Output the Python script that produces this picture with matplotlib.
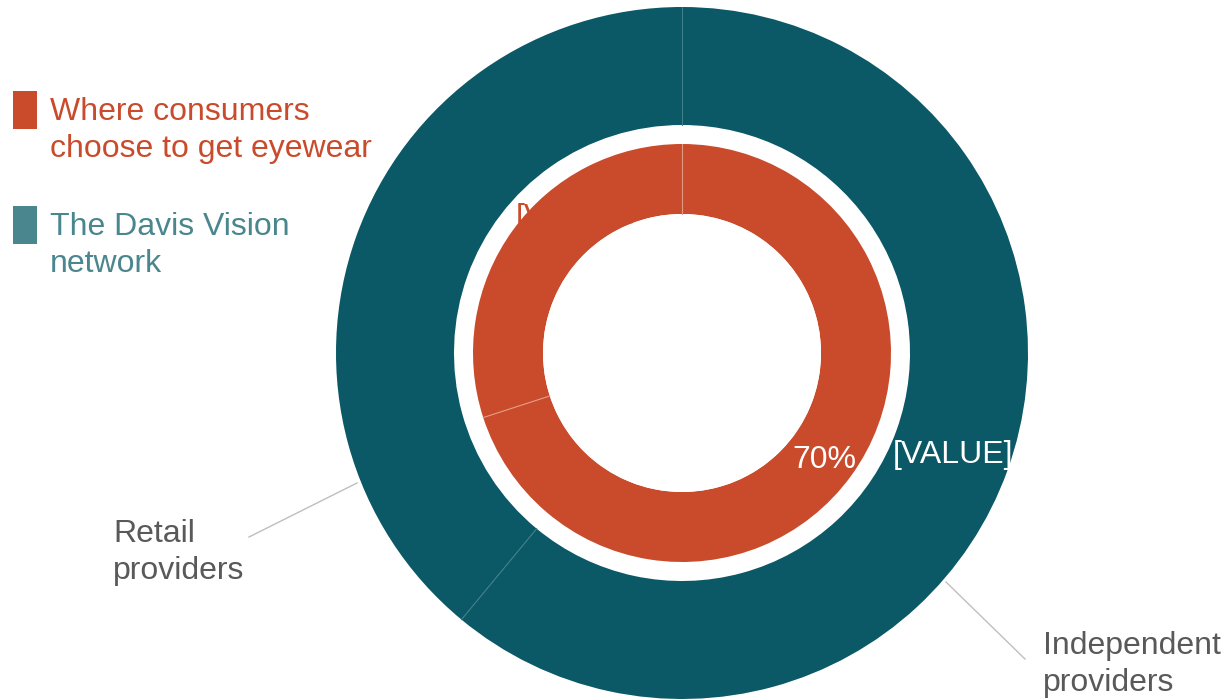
import numpy as np
import matplotlib
matplotlib.use("Agg")
import matplotlib.pyplot as plt

plt.rcParams['font.family'] = ['Liberation Sans', 'DejaVu Sans']

# --- data ---
outer_labels = ['Independent\nproviders', 'Retail\nproviders']
outer_values = [61, 39]          # The Davis Vision network
inner_values = [70, 30]          # Where consumers choose to get eyewear
legend_labels = ['Where consumers\nchoose to get eyewear', 'The Davis Vision\nnetwork']

TEAL = '#0b5866'
TEAL_LIGHT = '#4a868d'
RED = '#c94b2b'
GRAY = '#595959'
W, H = 1222, 700
FS = 23


def py(y):
    # pixel row (from top) -> data y
    return H - y


fig = plt.figure(figsize=(W / 100, H / 100), dpi=100)
ax = fig.add_axes([0, 0, 1, 1])

cx, cy = 682, py(353)
r_out, r_out_in = 346, 228
r_in, r_in_in = 209, 139

ax.pie(outer_values, radius=r_out, center=(cx, cy), startangle=90, counterclock=False,
       colors=[TEAL, TEAL], wedgeprops=dict(width=r_out - r_out_in, linewidth=0),
       frame=True)
# label hidden mostly behind the inner ring
ax.text(516, py(226), '[VALUE]', color=RED, fontsize=FS, va='baseline', zorder=1.5)
ax.pie(inner_values, radius=r_in, center=(cx, cy), startangle=90, counterclock=False,
       colors=[RED, RED], wedgeprops=dict(width=r_in - r_in_in, linewidth=0, zorder=2),
       frame=True)
ax.add_patch(plt.Circle((cx, cy), r_in_in, color='white', lw=0, zorder=2))

# thin slice separators
for vals, r0, r1, col in [(outer_values, r_out_in, r_out, '#3f7f89'),
                          (inner_values, r_in_in, r_in, '#e39a84')]:
    cum = np.cumsum([0] + vals[:-1]) / sum(vals)
    for f in cum:
        t = np.deg2rad(90 - 360 * f)
        ax.plot([cx + r0 * np.cos(t), cx + r1 * np.cos(t)],
                [cy + r0 * np.sin(t), cy + r1 * np.sin(t)],
                color=col, lw=0.8, zorder=3)

# value labels
ax.text(792, py(468), f'{inner_values[0]}%', color='white', fontsize=FS, va='baseline', zorder=4)
ax.text(893, py(463), '[VALUE]', color='white', fontsize=FS, va='baseline', zorder=4)

# category labels with leader lines
ax.plot([249, 357], [py(537), py(483)], color='#bfbfbf', lw=1)
ax.plot([946, 1025], [py(582), py(659)], color='#bfbfbf', lw=1)
for (x, y0), lab in zip([(1043, 654), (113, 542)], outer_labels):
    for i, line in enumerate(lab.split('\n')):
        ax.text(x, py(y0 + 37 * i), line, color=GRAY, fontsize=FS, va='baseline')

# legend
for (y_sq, y_base), lab, sq, tc in zip([(91, 120), (206, 235)], legend_labels,
                                      [RED, TEAL_LIGHT], [RED, TEAL_LIGHT]):
    ax.add_patch(plt.Rectangle((13, py(y_sq + 38)), 24, 38, color=sq, lw=0))
    for i, line in enumerate(lab.split('\n')):
        ax.text(50, py(y_base + 37 * i), line, color=tc, fontsize=FS, va='baseline')

ax.set_xlim(0, W)
ax.set_ylim(0, H)
ax.set_aspect('equal')
ax.axis('off')

fig.savefig('out.png', dpi=100)
